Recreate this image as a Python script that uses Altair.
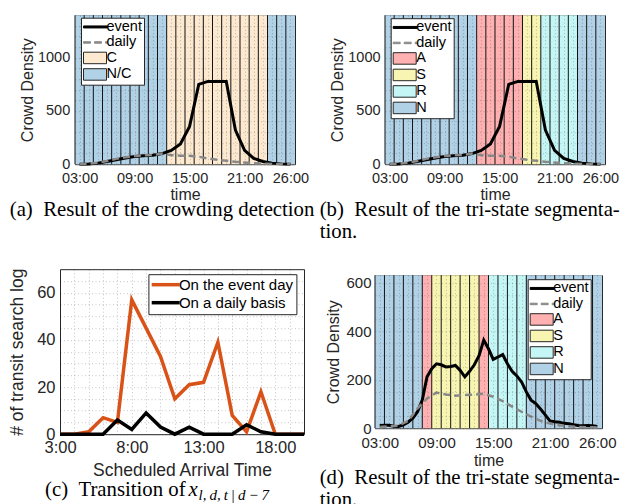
import altair as alt
import pandas as pd

# ------------------------------------------------------------------ data
HOURS = [3, 4, 5, 6, 7, 8, 9, 10, 11, 12, 13, 14, 15, 16, 17, 18, 19, 20, 21, 22, 23, 24, 25, 26]

AB_EVENT = [0, 2, 10, 25, 42, 58, 72, 80, 85, 100, 130, 190, 355, 750, 778, 778, 778, 320, 130, 55, 25, 10, 3, 0]
AB_DAILY = [0, 5, 14, 30, 50, 65, 77, 83, 88, 100, 85, 79, 79, 70, 54, 41, 32, 22, 16, 10, 6, 3, 1, 0]

A_STATE = ["N/C", "N/C", "N/C", "N/C", "N/C", "N/C", "N/C", "N/C", "N/C", "N/C",
           "C", "C", "C", "C", "C", "C", "C", "C", "C", "C", "C",
           "N/C", "N/C", "N/C"]
B_STATE = ["N", "N", "N", "N", "N", "N", "N", "N", "N", "N",
           "A", "A", "A", "A", "A", "S", "S", "R", "R", "R", "R",
           "N", "N", "N"]

D_EVENT_T = [3.0, 3.5, 4.0, 4.5, 5.0, 5.5, 6.0, 6.5, 7.0, 7.5, 8.0, 8.5, 9.0, 9.5, 10.0, 10.5,
             11.0, 11.5, 12.0, 12.5, 13.0, 13.5, 14.0, 14.5, 15.0, 15.5, 16.0, 16.5, 17.0, 17.5,
             18.0, 18.5, 19.0, 19.5, 20.0, 20.5, 21.0, 21.5, 22.0, 22.5, 23.0, 23.5, 24.0, 24.5,
             25.0, 25.5, 26.0]
D_EVENT = [11, 12, 12, 8, 7, 14, 25, 41, 68, 116, 212, 246, 266, 262, 253, 255,
           259, 239, 212, 235, 262, 300, 364, 328, 284, 294, 304, 266, 235, 216,
           191, 150, 116, 102, 79, 55, 30, 27, 25, 20, 18, 14, 11, 10,
           11, 10, 7]
D_DAILY = [5, 7, 11, 30, 82, 123, 147, 139, 134, 137, 139, 142, 130, 112, 89, 68, 48, 30, 19, 12, 8, 5, 4, 3]
D_STATE = ["N", "N", "N", "N", "N", "A", "S", "S", "S", "S", "S", "A",
           "R", "R", "R", "R", "N", "N", "N", "N", "N", "N", "N", "N"]

C_HOURS = [3, 4, 5, 6, 7, 8, 9, 10, 11, 12, 13, 14, 15, 16, 17, 18, 19, 20]
C_EVENT = [0, 0, 1, 7, 5, 57, 45, 33, 15, 21, 22, 39, 8, 1, 18, 0, 0, 0]
C_DAILY = [0, 0, 0, 0, 6, 2, 9, 3, 0, 3, 0, 0, 0, 4, 1, 0, 0, 0]

LINE_KEYS = ["event", "daily"]
A_KEYS = ["C", "N/C"]
B_KEYS = ["A", "S", "R", "N"]
C_KEYS = ["On the event day", "On a daily basis"]

AB_XTICKS = [3, 9, 15, 21, 26]
AB_XLABELS = ["03:00", "09:00", "15:00", "21:00", "26:00"]
AB_YTICKS = [0, 500, 1000]
AB_YGRID = [0, 100, 200, 300, 400, 500, 600, 700, 800, 900, 1000, 1100, 1200, 1300]
D_YTICKS = [0, 200, 400, 600]
D_YGRID = [0, 50, 100, 150, 200, 250, 300, 350, 400, 450, 500, 550, 600]
C_XTICKS = [3, 8, 13, 18]
C_XLABELS = ["3:00", "8:00", "13:00", "18:00"]
C_YTICKS = [0, 20, 40, 60]
C_YGRID = [0, 5, 10, 15, 20, 25, 30, 35, 40, 45, 50, 55, 60, 65]

CAP_A = "(a)\u2002Result of the crowding detection"
CAP_B = "(b)\u2002Result of the tri-state segmenta-\ntion."
CAP_C = "(c)\u2002Transition of"
CAP_C_VAR = "x"
CAP_C_SUB = "l,\u2009d,\u2009t\u2009|\u2009d\u2009\u2212\u20097"
CAP_D = "(d)\u2002Result of the tri-state segmenta-\ntion."

# ------------------------------------------------------------------ style
FONT = "Liberation Sans"
SERIF = "Liberation Serif"
INK = "#262626"
EVENT_COLOR = "#000000"
DAILY_COLOR = "#8a8a8a"
ORANGE = "#D95319"
STATE_COLORS = {"C": "#fce9cf", "N/C": "#b1d1e7", "A": "#ffb0b0",
                "S": "#f8f5b2", "R": "#c4f6f6", "N": "#b1d1e7"}
# legend glyphs (unit = 5 px, centred 7.25 px into each entry)
EVENT_GLYPH = "M-1.35,-0.2L3.45,-0.2L3.45,0.2L-1.35,0.2Z"
DAILY_GLYPH = ("M-1.35,-0.15L0.05,-0.15L0.05,0.15L-1.35,0.15Z"
               "M0.85,-0.15L2.25,-0.15L2.25,0.15L0.85,0.15Z"
               "M3.05,-0.15L3.45,-0.15L3.45,0.15L3.05,0.15Z")
PATCH_GLYPH = "M-1.35,-1.15L3.25,-1.15L3.25,1.15L-1.35,1.15Z"
CAP_FS = 20.8
LEG_FS = 14.5
INDEP = dict(fill="independent", stroke="independent", shape="independent")


def label_expr(vals, labs):
    s = "''"
    for v, l in reversed(list(zip(vals, labs))):
        s = f"datum.value == {v} ? '{l}' : {s}"
    return s


def axis(values, labexpr, title, lab_fs, title_fs, lab_pad, title_pad, zindex):
    return alt.Axis(
        values=values, labelExpr=labexpr, title=title,
        grid=True, gridColor="#303030", gridOpacity=0.35, gridDash=[1, 2.5], gridWidth=0.8,
        ticks=False, domain=False, labelFlush=False, labelOverlap=False,
        labelFont=FONT, labelFontSize=lab_fs, labelColor=INK, labelPadding=lab_pad,
        titleFont=FONT, titleFontSize=title_fs, titleFontWeight="normal", titleColor=INK,
        titlePadding=title_pad, zindex=zindex,
    )


def legend_carrier(state_keys, lx, ly):
    keys = LINE_KEYS + state_keys
    fills = [EVENT_COLOR, DAILY_COLOR] + [STATE_COLORS[k] for k in state_keys]
    strokes = [EVENT_COLOR, DAILY_COLOR] + [INK for _ in state_keys]
    shapes = [EVENT_GLYPH, DAILY_GLYPH] + [PATCH_GLYPH for _ in state_keys]
    leg = alt.Legend(
        title=None, orient="none", legendX=lx, legendY=ly, direction="vertical",
        fillColor="white", strokeColor=INK, padding=2, zindex=3,
        labelFont=FONT, labelFontSize=LEG_FS, labelColor="black", labelOffset=9,
        symbolSize=100, symbolStrokeWidth=1, symbolOpacity=1, rowPadding=0.5,
        labelLimit=300)
    return alt.Chart(pd.DataFrame({"k": keys})).mark_point(filled=True, opacity=0).encode(
        x=alt.value(0), y=alt.value(0),
        fill=alt.Fill("k:N", scale=alt.Scale(domain=keys, range=fills), legend=leg),
        stroke=alt.Stroke("k:N", scale=alt.Scale(domain=keys, range=strokes), legend=leg),
        shape=alt.Shape("k:N", scale=alt.Scale(domain=keys, range=shapes), legend=leg),
    )


def band_panel(states, state_keys, ev_t, ev_v, dl_t, dl_v, ymax, ygrid, yticks,
               width, height, lx, ly, caption, cap_x, cap_y,
               lab_fs, y_lab_pad, y_title_pad, x_lab_pad, x_title_pad):
    xs = alt.Scale(domain=[2.5, 26.5], nice=False, zero=False)
    ys = alt.Scale(domain=[0, ymax], nice=False, zero=False)
    xaxis = axis(HOURS, label_expr(AB_XTICKS, AB_XLABELS), "time", lab_fs, 16,
                 x_lab_pad, x_title_pad, 1)
    yaxis = axis(ygrid, label_expr(yticks, [str(v) for v in yticks]), "Crowd Density",
                 lab_fs, 16, y_lab_pad, y_title_pad, 1)
    band_df = pd.DataFrame({"h": HOURS, "k": states})

    layers = []
    for key in state_keys:
        layers.append(
            alt.Chart(band_df).transform_filter(alt.datum.k == key).transform_calculate(
                x0="datum.h - 0.5", x1="datum.h + 0.5"
            ).mark_rect(fill=STATE_COLORS[key]).encode(
                x=alt.X("x0:Q", scale=xs, axis=xaxis),
                x2="x1:Q",
                y=alt.YDatum(0, type="quantitative", scale=ys, axis=yaxis),
                y2=alt.Y2Datum(ymax),
            ))
    edges = alt.Chart(band_df).transform_calculate(x0="datum.h - 0.5").mark_rule(
        color="#111111", strokeWidth=1).encode(
        x=alt.X("x0:Q", scale=xs, axis=xaxis),
        y=alt.YDatum(0, type="quantitative", scale=ys, axis=yaxis),
        y2=alt.Y2Datum(ymax))
    ev = alt.Chart(pd.DataFrame({"t": ev_t, "v": ev_v})).mark_line(
        color=EVENT_COLOR, strokeWidth=3).encode(
        x=alt.X("t:Q", scale=xs, axis=xaxis), y=alt.Y("v:Q", scale=ys, axis=yaxis))
    dl = alt.Chart(pd.DataFrame({"t": dl_t, "v": dl_v})).mark_line(
        color=DAILY_COLOR, strokeWidth=2.5, strokeDash=[7, 4]).encode(
        x=alt.X("t:Q", scale=xs, axis=xaxis), y=alt.Y("v:Q", scale=ys, axis=yaxis))
    cap = alt.Chart(pd.DataFrame({"txt": [caption]})).mark_text(
        align="left", baseline="alphabetic", font=SERIF, fontSize=CAP_FS,
        lineBreak="\n", lineHeight=22, color="black").encode(
        text="txt:N", x=alt.value(cap_x), y=alt.value(cap_y))
    leg = legend_carrier(state_keys, lx, ly)
    return alt.layer(*layers, edges, ev, dl, cap, leg).properties(
        width=width, height=height, view=alt.ViewBackground(stroke=INK, strokeWidth=1))


def search_panel():
    xs = alt.Scale(domain=[3, 20], nice=False, zero=False)
    ys = alt.Scale(domain=[0, 70], nice=False, zero=False)
    xaxis = axis(C_HOURS, label_expr(C_XTICKS, C_XLABELS), "Scheduled Arrival Time",
                 16.5, 17.5, 5.5, 5, 0)
    yaxis = axis(C_YGRID, label_expr(C_YTICKS, [str(v) for v in C_YTICKS]),
                 "# of transit search log", 16.5, 17.5, 5, 10, 0)
    leg = alt.Legend(
        title=None, orient="none", legendX=88.4, legendY=5,
        direction="vertical", fillColor="white", strokeColor=INK,
        padding=3, zindex=3, labelFont=FONT, labelFontSize=15,
        labelColor="black", labelOffset=12.5, symbolSize=100,
        symbolType="M-1.44,0L4.16,0", symbolStrokeWidth=3.5,
        rowPadding=2, labelLimit=300)
    sscale = alt.Scale(domain=C_KEYS, range=[ORANGE, "#000000"])
    ev_df = pd.DataFrame({"t": C_HOURS, "v": C_EVENT, "s": [C_KEYS[0]] * len(C_HOURS)})
    dl_df = pd.DataFrame({"t": C_HOURS, "v": C_DAILY, "s": [C_KEYS[1]] * len(C_HOURS)})
    ev = alt.Chart(ev_df).mark_line(strokeWidth=3.5).encode(
        x=alt.X("t:Q", scale=xs, axis=xaxis),
        y=alt.Y("v:Q", scale=ys, axis=yaxis),
        stroke=alt.Stroke("s:N", scale=sscale, legend=leg))
    dl = alt.Chart(dl_df).mark_line(strokeWidth=3.5).encode(
        x=alt.X("t:Q", scale=xs, axis=xaxis),
        y=alt.Y("v:Q", scale=ys, axis=yaxis),
        stroke=alt.Stroke("s:N", scale=sscale, legend=leg))
    cap = alt.Chart(pd.DataFrame({"txt": [CAP_C]})).mark_text(
        align="left", baseline="alphabetic", font=SERIF, fontSize=CAP_FS, color="black"
    ).encode(text="txt:N", x=alt.value(-15), y=alt.value(226.7))
    capx = alt.Chart(pd.DataFrame({"txt": [CAP_C_VAR]})).mark_text(
        align="left", baseline="alphabetic", font=SERIF, fontSize=CAP_FS, fontStyle="italic",
        color="black").encode(text="txt:N", x=alt.value(128.5), y=alt.value(226.7))
    caps = alt.Chart(pd.DataFrame({"txt": [CAP_C_SUB]})).mark_text(
        align="left", baseline="alphabetic", font=SERIF, fontSize=15, fontStyle="italic",
        color="black").encode(text="txt:N", x=alt.value(138.5), y=alt.value(230.5))
    return alt.layer(ev, dl, cap, capx, caps).properties(
        width=244, height=165, view=alt.ViewBackground(stroke=INK, strokeWidth=1))


def spacer(w):
    return alt.Chart(pd.DataFrame({"v": [0]})).mark_point(opacity=0).encode(
        x=alt.X("v:Q", axis=None), y=alt.Y("v:Q", axis=None)).properties(width=w, height=1)


pa = band_panel(A_STATE, A_KEYS, HOURS, AB_EVENT, HOURS, AB_DAILY, 1400, AB_YGRID, AB_YTICKS,
                220, 149, 6, 2.5, CAP_A, -65.3, 201.3, 14.5, 5.3, 2, 7, 2.3)
pb = band_panel(B_STATE, B_KEYS, HOURS, AB_EVENT, HOURS, AB_DAILY, 1400, AB_YGRID, AB_YTICKS,
                220, 149, 5.7, 3, CAP_B, -65.3, 201.3, 14.5, 5, 2.5, 7, 2.3)
pc = search_panel()
pd_ = band_panel(D_STATE, B_KEYS, D_EVENT_T, D_EVENT, HOURS, D_DAILY, 632, D_YGRID, D_YTICKS,
                 227, 153, 152.7, 4, CAP_D, -55.3, 208.4, 15, 4, 4, 7.2, 2.5)

row1 = alt.hconcat(spacer(15), pa, spacer(90), pb, spacing=0).properties(bounds="flush") \
    .resolve_scale(**INDEP).resolve_legend(**INDEP)
row2 = alt.hconcat(pc, pd_, spacing=71).properties(bounds="flush", center=True) \
    .resolve_scale(**INDEP).resolve_legend(**INDEP)

chart = alt.vconcat(row1, row2, spacing=24).properties(
    padding={"left": 0, "top": 3.2, "right": 0, "bottom": 0},
).resolve_scale(**INDEP).resolve_legend(**INDEP) \
 .configure(font=FONT).configure_view(stroke="transparent")

chart.save("out.html", embed_options={"renderer": "svg", "actions": False})
